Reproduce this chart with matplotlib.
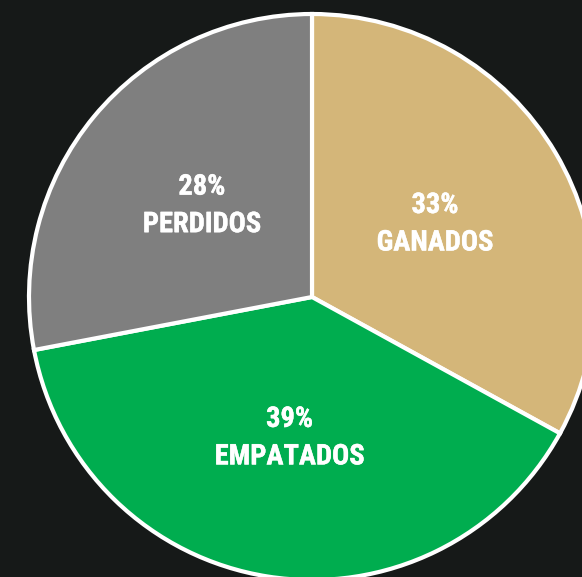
import matplotlib
matplotlib.use("Agg")
import matplotlib.pyplot as plt
from matplotlib import font_manager
import matplotlib.patheffects as pe

categories = ["GANADOS", "EMPATADOS", "PERDIDOS"]
values = [33, 39, 28]
colors = ["#D4B679", "#00AD4F", "#7F7F7F"]

W, H = 582, 577
cx, cy, r = 312, 297, 283


def wnum(w):
    if isinstance(w, int):
        return w
    return {"bold": 700, "semibold": 600, "demibold": 600, "heavy": 800,
            "black": 900, "extra bold": 800, "ultrabold": 800}.get(str(w).lower(), 400)


fonts = font_manager.fontManager.ttflist
rob = [f for f in fonts if f.name.startswith("Roboto Condensed") and f.style == "normal"]
rob.sort(key=lambda f: -wnum(f.weight))
if rob:
    best = rob[0]
    fp = font_manager.FontProperties(fname=best.fname)
    stroke = 0.3 if wnum(best.weight) >= 700 else 1.3
else:
    fp = font_manager.FontProperties(family="DejaVu Sans", weight="bold", stretch="condensed")
    stroke = 0

fig = plt.figure(figsize=(W / 100, H / 100), dpi=100)
fig.patch.set_facecolor("#161918")
ax = fig.add_axes([0, 0, 1, 1])
ax.set_facecolor("#161918")

wedges, texts, autotexts = ax.pie(
    values,
    colors=colors,
    startangle=90,
    counterclock=False,
    radius=1,
    autopct=lambda p: "",
    pctdistance=0.505,
    wedgeprops=dict(edgecolor="white", linewidth=3),
)
for at, cat, v in zip(autotexts, categories, values):
    at.set_text(f"{v}%\n{cat}")
    at.set_fontproperties(fp)
    at.set_color("white")
    at.set_fontsize(20.5)
    at.set_linespacing(1.5)
    at.set_ha("center")
    at.set_va("center")
    if stroke:
        at.set_path_effects([pe.withStroke(linewidth=stroke, foreground="white")])

ax.set_xlim(-cx / r, (W - cx) / r)
ax.set_ylim(-(H - cy) / r, cy / r)
ax.set_aspect("equal")
ax.axis("off")
fig.savefig("out.png", dpi=100, facecolor=fig.get_facecolor())
